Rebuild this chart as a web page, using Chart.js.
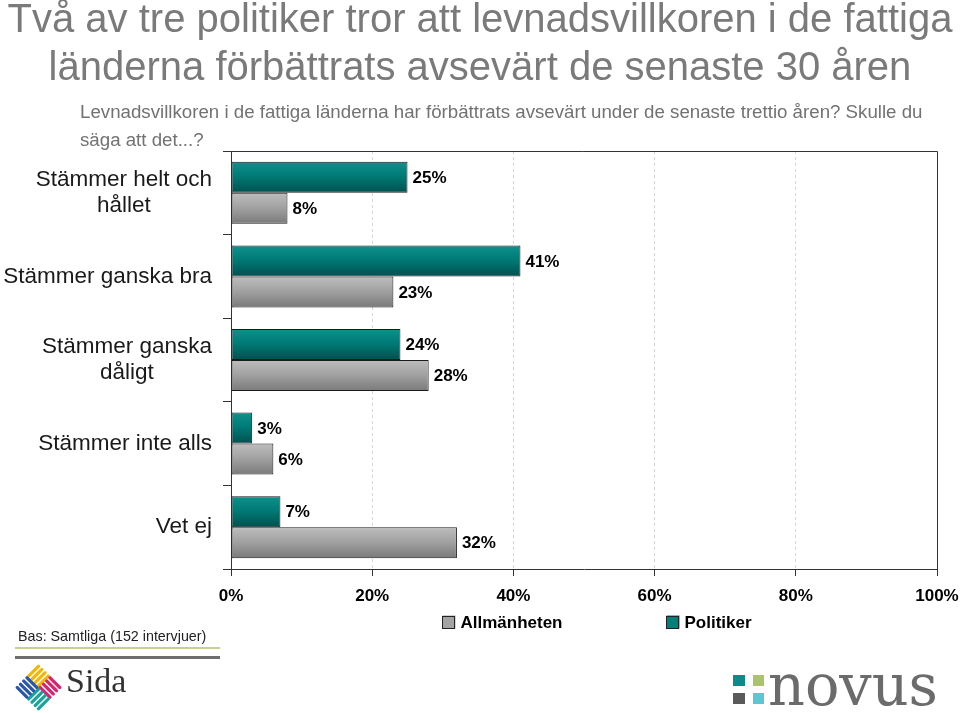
<!DOCTYPE html>
<html><head><meta charset="utf-8">
<script src="https://cdn.jsdelivr.net/npm/chart.js@4.4.1/dist/chart.umd.min.js"></script>
<style>
html,body{margin:0;padding:0;width:960px;height:713px;overflow:hidden;background:#fff;font-family:"Liberation Sans",Arial,sans-serif;}
#wrap{position:relative;width:960px;height:713px;}
#c{position:absolute;left:0;top:0;}
.title{position:absolute;left:0;width:960px;text-align:center;font-size:40px;line-height:48px;color:#7a7a7a;white-space:nowrap;top:-6px;}
.sub{position:absolute;left:80px;top:98px;font-size:18.7px;line-height:28px;color:#727272;white-space:nowrap;}
.bas{position:absolute;left:18px;top:628px;font-size:14.3px;line-height:17px;color:#222;white-space:nowrap;}
.l1{position:absolute;left:15px;top:647px;width:205px;height:2px;background:#c9cf8e;}
.l2{position:absolute;left:15px;top:656px;width:205px;height:3px;background:#6d6d6d;}
svg.logo{position:absolute;}
</style>
</head><body>
<div id="wrap">
<canvas id="c" width="960" height="713"></canvas>
<div class="title">Två av tre politiker tror att levnadsvillkoren i de fattiga<br>länderna förbättrats avsevärt de senaste 30 åren</div>
<div class="sub">Levnadsvillkoren i de fattiga länderna har förbättrats avsevärt under de senaste trettio åren? Skulle du<br>säga att det...?</div>
<div class="bas">Bas: Samtliga (152 intervjuer)</div>
<div class="l1"></div><div class="l2"></div>
<svg class="logo" style="left:0;top:660px" width="150" height="53" viewBox="0 0 150 53">
  <defs>
    <g id="q4">
      <rect x="-8.5" y="-8.5" width="17" height="3.2" rx="1.4"/>
      <rect x="-8.5" y="-3.9" width="17" height="3.2" rx="1.4"/>
      <rect x="-8.5" y="0.7" width="17" height="3.2" rx="1.4"/>
      <rect x="-8.5" y="5.3" width="17" height="3.2" rx="1.4"/>
    </g>
  </defs>
  <g transform="translate(38.5,27.5)">
    <g transform="translate(0,-11.5) rotate(45)" fill="#f2b705"><use href="#q4" transform="rotate(90)"/></g>
    <g transform="translate(11.5,0) rotate(45)" fill="#d6246e"><use href="#q4"/></g>
    <g transform="translate(0,11.5) rotate(45)" fill="#1aa39a"><use href="#q4" transform="rotate(90)"/></g>
    <g transform="translate(-11.5,0) rotate(45)" fill="#2a56a8"><use href="#q4"/></g>
  </g>
  <text x="66" y="32" font-family="Liberation Serif, Times New Roman, serif" font-size="34" fill="#333">Sida</text>
</svg>
<svg class="logo" style="left:720px;top:660px" width="240" height="53" viewBox="0 0 240 53">
  <rect x="13" y="15" width="12" height="11" fill="#0e8a8a"/>
  <rect x="33" y="15" width="11" height="11" fill="#a9c46c"/>
  <rect x="13" y="33" width="12" height="11" fill="#5a5a5a"/>
  <rect x="33" y="33" width="11" height="11" fill="#5ec6d2"/>
  <text x="48" y="45" font-family="DejaVu Serif, serif" font-size="57" fill="#6b6b6b" textLength="170" lengthAdjust="spacingAndGlyphs">novus</text>
</svg>
</div>
<script>
// ---- data ----
const categories = [["Stämmer helt och","hållet"],["Stämmer ganska bra"],["Stämmer ganska","dåligt"],["Stämmer inte alls"],["Vet ej"]];
const seriesNames = ["Politiker","Allmänheten"];
const politiker = [25, 41, 24, 3, 7];
const allmanheten = [8, 23, 28, 6, 32];
const xTicks = [0, 20, 40, 60, 80, 100];
const legendOrder = [1, 0];

// ---- styles ----
const FONT = '"Liberation Sans", Arial, sans-serif';
const CAT_PCT = 0.742;
const tealStops = [[0,'#0f918c'],[0.45,'#007b77'],[1,'#00504e']];
const grayStops = [[0,'#bdbdbd'],[0.45,'#a3a3a3'],[1,'#7a7a7a']];

function barFill(stops, solid){
  return function(c){
    const chart = c.chart;
    const y = chart.scales && chart.scales.y;
    if (!y || c.dataIndex == null || !chart.chartArea) return solid;
    const center = y.getPixelForValue(c.dataIndex);
    const step = Math.abs(y.getPixelForValue(1) - y.getPixelForValue(0));
    const t = step * CAT_PCT / 2;
    const top = center - t + c.datasetIndex * t;
    const g = chart.ctx.createLinearGradient(0, top, 0, top + t);
    stops.forEach(s => g.addColorStop(s[0], s[1]));
    return g;
  };
}

const boxPlugin = {
  id: 'boxPlugin',
  afterDraw(chart){
    const {ctx, chartArea: a} = chart;
    ctx.save();
    ctx.strokeStyle = '#333'; ctx.lineWidth = 1;
    ctx.beginPath();
    ctx.moveTo(a.left - 3, Math.round(a.top) + 0.5);
    ctx.lineTo(Math.round(a.right) + 0.5, Math.round(a.top) + 0.5);
    ctx.lineTo(Math.round(a.right) + 0.5, a.bottom);
    ctx.stroke();
    ctx.restore();
  }
};

const valueLabels = {
  id: 'valueLabels',
  afterDatasetsDraw(chart){
    const ctx = chart.ctx;
    ctx.save();
    ctx.font = 'bold 17px ' + FONT;
    ctx.fillStyle = '#000';
    ctx.textAlign = 'left';
    ctx.textBaseline = 'middle';
    chart.data.datasets.forEach((ds, di) => {
      chart.getDatasetMeta(di).data.forEach((el, i) => {
        ctx.fillText(ds.data[i] + '%', el.x + 5, el.y + 1);
      });
    });
    ctx.restore();
  }
};

const catLabels = {
  id: 'catLabels',
  afterDraw(chart){
    const ctx = chart.ctx, y = chart.scales.y, a = chart.chartArea;
    ctx.save();
    ctx.font = '22.5px ' + FONT;
    ctx.fillStyle = '#1a1a1a';
    ctx.textAlign = 'center';
    ctx.textBaseline = 'middle';
    chart.data.labels.forEach((lines, i) => {
      const cy = y.getPixelForValue(i);
      const w = Math.max(...lines.map(s => ctx.measureText(s).width));
      const cx = a.left - 19 - w / 2;
      lines.forEach((s, j) => {
        ctx.fillText(s, cx, cy + (j - (lines.length - 1) / 2) * 26);
      });
    });
    ctx.restore();
  }
};

const customLegend = {
  id: 'customLegend',
  afterDraw(chart){
    const ctx = chart.ctx, a = chart.chartArea;
    const box = 13, gap = 104, textGap = 5;
    ctx.save();
    ctx.font = 'bold 17px ' + FONT;
    ctx.textBaseline = 'middle';
    ctx.textAlign = 'left';
    const items = legendOrder.map(di => {
      const ds = chart.data.datasets[di];
      return {text: ds.label, color: ds.legendColor, w: box + textGap + ctx.measureText(ds.label).width};
    });
    const total = items.reduce((s, it) => s + it.w, 0) + gap * (items.length - 1);
    let x = (a.left + a.right) / 2 + 13 - total / 2;
    const yc = 622;
    items.forEach(it => {
      ctx.fillStyle = it.color;
      ctx.fillRect(x, yc - box / 2, box, box);
      ctx.strokeStyle = '#222'; ctx.lineWidth = 1;
      ctx.strokeRect(Math.round(x) + 0.5, Math.round(yc - box / 2) + 0.5, box - 1, box - 1);
      ctx.fillStyle = '#000';
      ctx.fillText(it.text, x + box + textGap, yc + 1);
      x += it.w + gap;
    });
    ctx.restore();
  }
};

new Chart(document.getElementById('c'), {
  type: 'bar',
  data: {
    labels: categories,
    datasets: [
      {label: seriesNames[0], data: politiker, backgroundColor: barFill(tealStops, '#007b77'), legendColor: '#00807b',
       borderColor: '#1a1a1a', borderWidth: 1, borderSkipped: false},
      {label: seriesNames[1], data: allmanheten, backgroundColor: barFill(grayStops, '#a3a3a3'), legendColor: '#a3a3a3',
       borderColor: '#1a1a1a', borderWidth: 1, borderSkipped: false}
    ]
  },
  options: {
    indexAxis: 'y',
    responsive: false,
    animation: false,
    events: [],
    categoryPercentage: CAT_PCT,
    barPercentage: 1,
    layout: {padding: {top: 151, right: 23, bottom: 104, left: 0}},
    plugins: {legend: {display: false}, tooltip: {enabled: false}, title: {display: false}},
    scales: {
      y: {
        type: 'category', offset: true,
        grid: {offset: true, drawOnChartArea: false, drawTicks: true, tickLength: 8, tickColor: '#333', tickWidth: 1, color: '#333'},
        border: {display: true, color: '#333', width: 1},
        ticks: {display: false},
        afterFit(s){ s.width = 231; }
      },
      x: {
        type: 'linear', min: 0, max: 100, position: 'bottom',
        afterBuildTicks(s){ s.ticks = xTicks.map(v => ({value: v})); },
        ticks: {callback: v => v + '%', font: {family: FONT, size: 17, weight: 'bold'}, color: '#000', padding: 10, maxRotation: 0, autoSkip: false},
        grid: {color: c => (c.tick && (c.tick.value === 0 || c.tick.value === 100)) ? 'rgba(0,0,0,0)' : '#d6d6d6',
               lineWidth: 1, drawTicks: true, tickLength: 7, tickColor: '#333', tickWidth: 1},
        border: {display: true, color: '#333', width: 1, dash: [3, 3]},
        afterFit(s){ s.height = 40; s.paddingRight = 0; s.paddingLeft = 0; }
      }
    }
  },
  plugins: [boxPlugin, valueLabels, catLabels, customLegend]
});
</script>
</body></html>
